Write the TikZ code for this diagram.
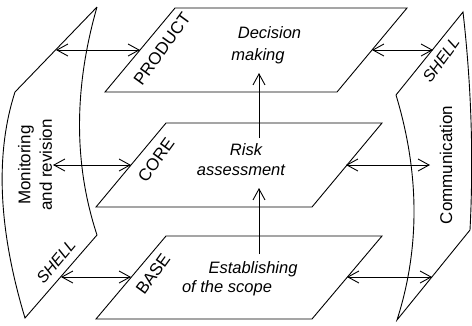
\documentclass[tikz,border=0pt]{standalone}
\usepackage{fontspec}
\setmainfont{Liberation Sans}
\usetikzlibrary{arrows.meta}
\begin{document}
\begin{tikzpicture}[x=1pt,y=-1pt,
  line width=0.9pt,
  barb/.tip={Straight Barb[length=11pt,width=12pt]},
  dbl/.style={barb-barb},
  uparrow/.style={-barb},
  txt/.style={font=\fontsize{16.5}{20}\selectfont\itshape, inner sep=0pt, anchor=base},
  vtxt/.style={font=\fontsize{17}{21.5}\selectfont, align=center, inner sep=0pt, rotate=90},
  lbl/.style={font=\fontsize{17}{18}\selectfont, inner sep=0pt, rotate=54},
  shl/.style={font=\fontsize{16}{18}\selectfont\itshape, inner sep=0pt},
]
\fill[white] (0,0) rectangle (472,325);
\useasboundingbox (0,0) rectangle (472,325);

% parallelogram layers
\draw (175,8) -- (407,8) -- (337,92) -- (105,92) -- cycle;
\draw (166,123) -- (382,123) -- (312,207) -- (96,207) -- cycle;
\draw (166,236) -- (382,236) -- (312,319) -- (96,319) -- cycle;

% left shell
\coordinate (L1) at (97,7);
\coordinate (L2) at (15,92);
\coordinate (L3) at (25,318);
\coordinate (L4) at (97,235);
\draw (L1) -- (L2) .. controls (-5,154) and (-1.7,229.3) .. (L3) -- (L4)
      .. controls (73.7,164.3) and (73.7,88.3) .. (L1);

% right shell
\coordinate (R1) at (396,95);
\coordinate (R2) at (463,12);
\coordinate (R3) at (470,230);
\coordinate (R4) at (397,320);
\draw (R1) -- (R2) .. controls (471.3,84.7) and (473.7,157.3) .. (R3) -- (R4)
      .. controls (420,248.3) and (419.7,173.3) .. (R1);

% arrow end points
\coordinate (pl1) at (56,50);   \coordinate (pl2) at (140,50);
\coordinate (cl1) at (53,165);  \coordinate (cl2) at (131,165);
\coordinate (bl1) at (61,277);  \coordinate (bl2) at (131,277);
\coordinate (pr1) at (372,50);  \coordinate (pr2) at (433,50);
\coordinate (cr1) at (346,165); \coordinate (cr2) at (430,165);
\coordinate (br1) at (347,277); \coordinate (br2) at (432,277);
\coordinate (v1a) at (259,254); \coordinate (v1b) at (259,188);
\coordinate (v2a) at (259,138); \coordinate (v2b) at (259,73);

\draw[dbl] (pl1) -- (pl2);
\draw[dbl] (cl1) -- (cl2);
\draw[dbl] (bl1) -- (bl2);
\draw[dbl] (pr1) -- (pr2);
\draw[dbl] (cr1) -- (cr2);
\draw[dbl] (br1) -- (br2);
\draw[uparrow] (v1a) -- (v1b);
\draw[uparrow] (v2a) -- (v2b);

% central texts
\node[txt] (dec1) at (269.5,38) {Decision};
\node[txt] (dec2) at (258,60) {making};
\node[txt] (risk1) at (246,155) {Risk};
\node[txt] (risk2) at (241,175) {assessment};
\node[txt] (est1) at (253,273) {Establishing};
\node[txt] (est2) at (227,292) {of the scope};

% layer labels
\node[lbl] (product) at (162,49) {PRODUCT};
\node[lbl] (core) at (156,160) {CORE};
\node[lbl] (base) at (153,274) {BASE};

% shell texts
\node[vtxt] (mon) at (35,165) {Monitoring\\and revision};
\node[vtxt] (comm) at (446,165) {Communication};
\node[shl, rotate=50] (shellL) at (56,262) {SHELL};
\node[shl, rotate=54] (shellR) at (441,60) {SHELL};
\end{tikzpicture}
\end{document}
